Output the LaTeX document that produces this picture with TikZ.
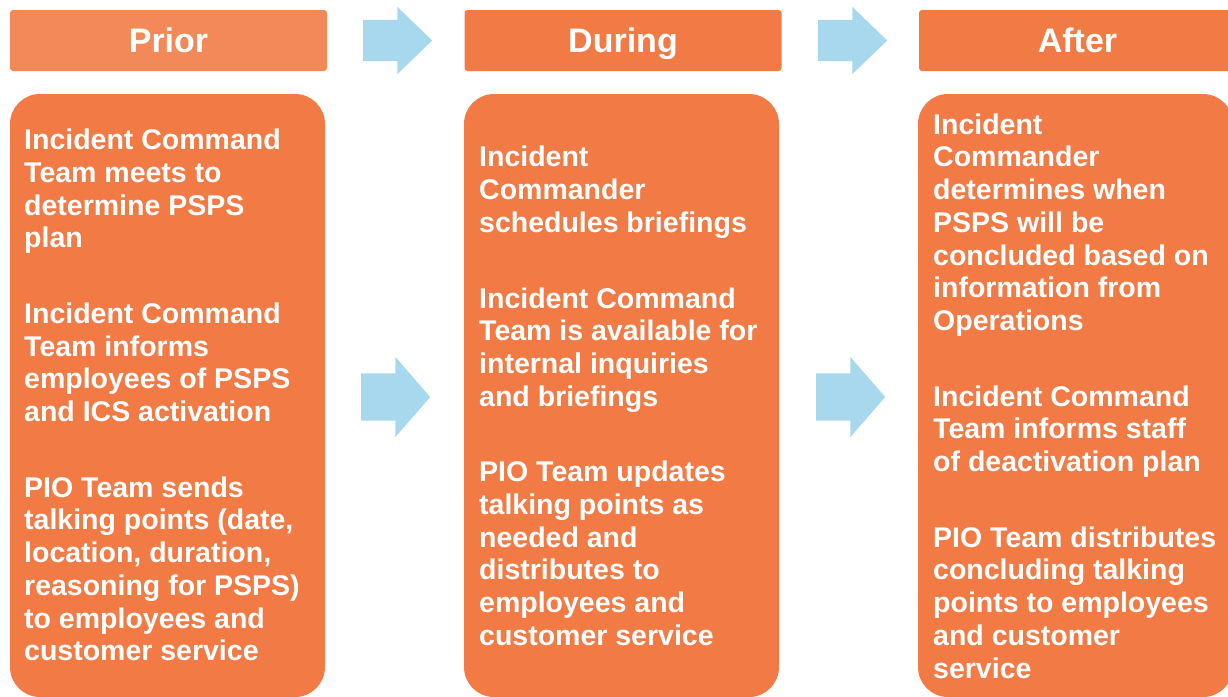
\documentclass[tikz,border=0pt]{standalone}
\usepackage{fontspec}
\setmainfont{Liberation Sans}
\usepackage{tikz}
\usetikzlibrary{shapes,positioning}
\usepackage{xcolor}
\definecolor{phlight}{RGB}{243,137,88}
\definecolor{phorange}{RGB}{242,122,68}
\definecolor{phblue}{RGB}{168,216,238}
\tikzstyle{header} = [rectangle, minimum width=317pt, minimum height=61pt, rounded corners=3pt, fill=phorange, text=white, text height=26pt, text depth=2pt, font=\fontsize{34}{40}\selectfont\bfseries]
\tikzstyle{panel} = [rectangle, minimum width=315pt, minimum height=603pt, rounded corners=30pt, fill=phorange]
\tikzstyle{paneltext} = [anchor=west, align=left, inner sep=0pt, text=white, font=\fontsize{28.5}{32.7}\selectfont\bfseries]
\tikzstyle{flow} = [single arrow, fill=phblue, draw=none, inner xsep=0pt, minimum height=69pt, anchor=tail]

\begin{document}
\begin{tikzpicture}[x=1pt, y=-1pt]
\useasboundingbox (0,0) rectangle (1228,696);
\clip (0,0) rectangle (1228,696);

% Phase headers
\node[header, fill=phlight] (prior) at (168.5,40.5) {Prior};
\node[header] (during) at (623,40.5) {During};
\node[header] (after) at (1077.5,40.5) {After};

% Phase panels
\node[panel] (priorbox) at (167.5,395.5) {};
\node[panel] (duringbox) at (621.5,395.5) {};
\node[panel] (afterbox) at (1075.5,395.5) {};

% Panel texts
\node[paneltext] (priortext) at (24,395) {Incident Command\\Team meets to\\determine PSPS\\plan\\[43pt]Incident Command\\Team informs\\employees of PSPS\\and ICS activation\\[43pt]PIO Team sends\\talking points (date,\\location, duration,\\reasoning for PSPS)\\to employees and\\customer service};
\node[paneltext] (duringtext) at (479,396) {Incident\\Commander\\schedules briefings\\[43pt]Incident Command\\Team is available for\\internal inquiries\\and briefings\\[43pt]PIO Team updates\\talking points as\\needed and\\distributes to\\employees and\\customer service};
\node[paneltext] (aftertext) at (933,396) {Incident\\Commander\\determines when\\PSPS will be\\concluded based on\\information from\\Operations\\[43pt]Incident Command\\Team informs staff\\of deactivation plan\\[43pt]PIO Team distributes\\concluding talking\\points to employees\\and customer\\service};

% Arrows between phases
\node[flow, inner ysep=20.5pt, single arrow head extend=13pt, single arrow tip angle=88] (toduring) at (363,40.5) {};
\node[flow, inner ysep=20.5pt, single arrow head extend=13pt, single arrow tip angle=88] (toafter) at (818,40.5) {};
\node[flow, inner ysep=23.5pt, single arrow head extend=16.5pt, single arrow tip angle=98] (duringarrow) at (361,397) {};
\node[flow, inner ysep=23.5pt, single arrow head extend=16.5pt, single arrow tip angle=98] (afterarrow) at (816,397) {};
\end{tikzpicture}
\end{document}
